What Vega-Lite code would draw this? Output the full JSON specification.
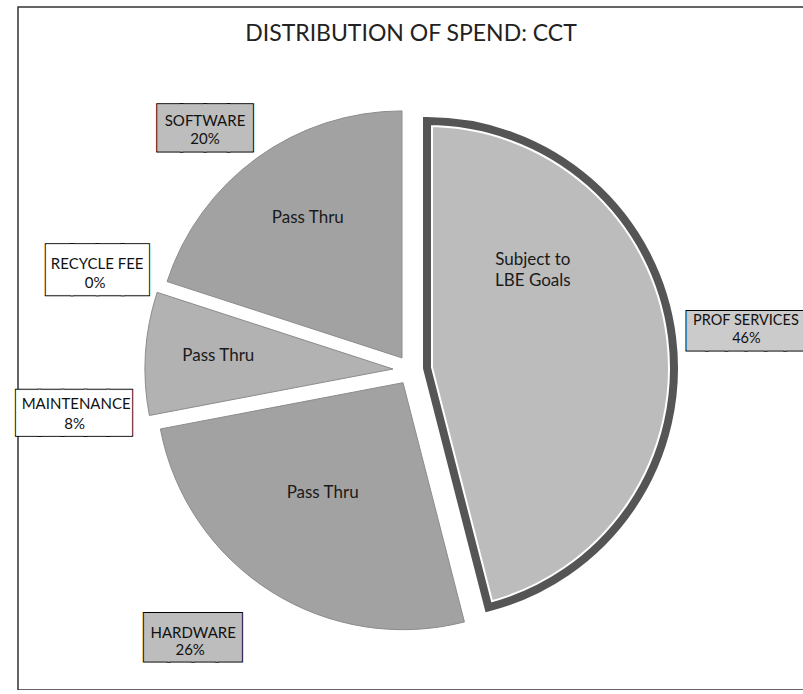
{
  "$schema": "https://vega.github.io/schema/vega-lite/v6.json",
  "width": 786,
  "height": 683,
  "autosize": "none",
  "padding": {"left": 18, "top": 7, "right": 0, "bottom": 0},
  "background": "white",
  "view": {"stroke": "#333", "strokeWidth": 1.5, "fill": "white"},
  "title": {"text": "DISTRIBUTION OF SPEND: CCT", "font": "Lato", "fontSize": 23, "fontWeight": "normal", "color": "#222", "anchor": "middle", "frame": "group", "baseline": "alphabetic", "offset": 0, "dy": 57},
  "config": {"text": {"font": "Lato"}},
  "data": {"values": [
    {"cat": "PROF SERVICES", "share": 0.46, "ord": 1, "inner": "Subject to\nLBE Goals"},
    {"cat": "HARDWARE", "share": 0.26, "ord": 2, "inner": "Pass Thru"},
    {"cat": "MAINTENANCE", "share": 0.08, "ord": 3, "inner": "Pass Thru"},
    {"cat": "RECYCLE FEE", "share": 0.0, "ord": 4, "inner": ""},
    {"cat": "SOFTWARE", "share": 0.20, "ord": 5, "inner": "Pass Thru"}
  ]},
  "transform": [{"stack": "share", "groupby": [], "sort": [{"field": "ord", "order": "ascending"}], "as": ["t0", "t1"]}],
  "layer": [
    {
      "transform": [{"filter": "datum.cat === 'SOFTWARE'"}],
      "mark": {"type": "arc", "radius": 247, "fill": "#a2a2a2", "stroke": "#8c8c8c", "strokeWidth": 1, "xOffset": -9, "yOffset": 9.4},
      "encoding": {"theta": {"field": "t0", "type": "quantitative", "scale": {"domain": [0, 1]}}, "theta2": {"field": "t1"}}
    },
    {
      "transform": [{"filter": "datum.cat === 'MAINTENANCE'"}],
      "mark": {"type": "arc", "radius": 248, "fill": "#b2b2b2", "stroke": "#8c8c8c", "strokeWidth": 1, "xOffset": -18, "yOffset": 20.5},
      "encoding": {"theta": {"field": "t0", "type": "quantitative", "scale": {"domain": [0, 1]}}, "theta2": {"field": "t1"}}
    },
    {
      "transform": [{"filter": "datum.cat === 'HARDWARE'"}],
      "mark": {"type": "arc", "radius": 247, "fill": "#a2a2a2", "stroke": "#8c8c8c", "strokeWidth": 1, "xOffset": -8, "yOffset": 34.2},
      "encoding": {"theta": {"field": "t0", "type": "quantitative", "scale": {"domain": [0, 1]}}, "theta2": {"field": "t1"}}
    },
    {
      "transform": [{"filter": "datum.cat === 'PROF SERVICES'"}],
      "mark": {"type": "arc", "radius": 247, "fill": "#bcbcbc", "stroke": "white", "strokeWidth": 12, "xOffset": 16, "yOffset": 19.6},
      "encoding": {"theta": {"field": "t0", "type": "quantitative", "scale": {"domain": [0, 1]}}, "theta2": {"field": "t1"}}
    },
    {
      "transform": [{"filter": "datum.cat === 'PROF SERVICES'"}],
      "mark": {"type": "arc", "radius": 247, "filled": false, "stroke": "#555555", "strokeWidth": 8, "xOffset": 16, "yOffset": 19.6},
      "encoding": {"theta": {"field": "t0", "type": "quantitative", "scale": {"domain": [0, 1]}}, "theta2": {"field": "t1"}}
    },
    {
      "encoding": {
        "theta": {"field": "share", "type": "quantitative", "stack": true, "scale": {"domain": [0, 1]}},
        "order": {"field": "ord", "type": "quantitative"},
        "detail": {"field": "cat", "type": "nominal"}
      },
      "layer": [
        {"mark": {"type": "text", "radius": 150, "dx": -15, "dy": -9, "fontSize": 17, "fill": "#1a1a1a", "baseline": "middle", "align": "center"},
         "encoding": {"text": {"field": "inner", "condition": {"test": "datum.cat !== 'SOFTWARE'", "value": ""}}}},
        {"mark": {"type": "text", "radius": 150, "dx": -43, "dy": 17, "fontSize": 17, "fill": "#1a1a1a", "baseline": "middle", "align": "center"},
         "encoding": {"text": {"field": "inner", "condition": {"test": "datum.cat !== 'MAINTENANCE'", "value": ""}}}},
        {"mark": {"type": "text", "radius": 150, "dx": -8, "dy": 18, "fontSize": 17, "fill": "#1a1a1a", "baseline": "middle", "align": "center"},
         "encoding": {"text": {"field": "inner", "condition": {"test": "datum.cat !== 'HARDWARE'", "value": ""}}}},
        {"mark": {"type": "text", "radius": 150, "dx": -27, "dy": -70, "fontSize": 17, "fill": "#1a1a1a", "baseline": "middle", "align": "center", "lineBreak": "\n", "lineHeight": 21},
         "encoding": {"text": {"field": "inner", "condition": {"test": "datum.cat !== 'PROF SERVICES'", "value": ""}}}},

        {"mark": {"type": "text", "radius": 330, "dx": -12, "dy": 47, "angle": 0.01, "font": "DejaVu Sans Mono", "fontSize": 39, "fill": "transparent", "stroke": "#000", "strokeWidth": 3, "baseline": "middle", "align": "center"},
         "encoding": {"text": {"condition": {"test": "datum.cat === 'SOFTWARE'", "value": "████"}, "value": ""}}},
        {"mark": {"type": "text", "radius": 330, "dx": -12, "dy": 47, "angle": 0.01, "font": "DejaVu Sans Mono", "fontSize": 39, "fill": "#bdbdbd", "stroke": "#bdbdbd", "strokeWidth": 1, "baseline": "middle", "align": "center"},
         "encoding": {"text": {"condition": {"test": "datum.cat === 'SOFTWARE'", "value": "████"}, "value": ""}}},
        {"mark": {"type": "text", "radius": 330, "dx": -12, "dy": 39.5, "fontSize": 15, "fill": "#111", "baseline": "middle", "align": "center"},
         "encoding": {"text": {"field": "cat", "condition": {"test": "datum.cat !== 'SOFTWARE'", "value": ""}}}},
        {"mark": {"type": "text", "radius": 330, "dx": -12, "dy": 57, "fontSize": 15, "fill": "#111", "baseline": "middle", "align": "center"},
         "encoding": {"text": {"field": "share", "format": ".0%", "condition": {"test": "datum.cat !== 'SOFTWARE'", "value": ""}}}},

        {"mark": {"type": "text", "radius": 330, "dx": 0, "dy": 24.5, "angle": 0.01, "font": "DejaVu Sans Mono", "fontSize": 42, "fill": "transparent", "stroke": "#000", "strokeWidth": 3, "baseline": "middle", "align": "center"},
         "encoding": {"text": {"condition": {"test": "datum.cat === 'RECYCLE FEE'", "value": "████"}, "value": ""}}},
        {"mark": {"type": "text", "radius": 330, "dx": 0, "dy": 24.5, "angle": 0.01, "font": "DejaVu Sans Mono", "fontSize": 42, "fill": "#ffffff", "stroke": "#ffffff", "strokeWidth": 1, "baseline": "middle", "align": "center"},
         "encoding": {"text": {"condition": {"test": "datum.cat === 'RECYCLE FEE'", "value": "████"}, "value": ""}}},
        {"mark": {"type": "text", "radius": 330, "dx": 0, "dy": 17.5, "fontSize": 15, "fill": "#111", "baseline": "middle", "align": "center"},
         "encoding": {"text": {"field": "cat", "condition": {"test": "datum.cat !== 'RECYCLE FEE'", "value": ""}}}},
        {"mark": {"type": "text", "radius": 330, "dx": -2, "dy": 36, "fontSize": 15, "fill": "#111", "baseline": "middle", "align": "center"},
         "encoding": {"text": {"field": "share", "format": ".0%", "condition": {"test": "datum.cat !== 'RECYCLE FEE'", "value": ""}}}},

        {"mark": {"type": "text", "radius": 330, "dx": -7.5, "dy": 87, "angle": 0.01, "font": "DejaVu Sans Mono", "fontSize": 38, "fill": "transparent", "stroke": "#000", "strokeWidth": 3, "baseline": "middle", "align": "center"},
         "encoding": {"text": {"condition": {"test": "datum.cat === 'MAINTENANCE'", "value": "█████"}, "value": ""}}},
        {"mark": {"type": "text", "radius": 330, "dx": -7.5, "dy": 87, "angle": 0.01, "font": "DejaVu Sans Mono", "fontSize": 38, "fill": "#ffffff", "stroke": "#ffffff", "strokeWidth": 1, "baseline": "middle", "align": "center"},
         "encoding": {"text": {"condition": {"test": "datum.cat === 'MAINTENANCE'", "value": "█████"}, "value": ""}}},
        {"mark": {"type": "text", "radius": 330, "dx": -5.5, "dy": 76.5, "fontSize": 15, "fill": "#111", "baseline": "middle", "align": "center"},
         "encoding": {"text": {"field": "cat", "condition": {"test": "datum.cat !== 'MAINTENANCE'", "value": ""}}}},
        {"mark": {"type": "text", "radius": 330, "dx": -7, "dy": 96.5, "fontSize": 15, "fill": "#111", "baseline": "middle", "align": "center"},
         "encoding": {"text": {"field": "share", "format": ".0%", "condition": {"test": "datum.cat !== 'MAINTENANCE'", "value": ""}}}},

        {"mark": {"type": "text", "radius": 330, "dx": 7.5, "dy": 24.5, "angle": 0.01, "font": "DejaVu Sans Mono", "fontSize": 32.5, "fill": "transparent", "stroke": "#000", "strokeWidth": 3, "baseline": "middle", "align": "center"},
         "encoding": {"text": {"condition": {"test": "datum.cat === 'PROF SERVICES'", "value": "██████"}, "value": ""}}},
        {"mark": {"type": "text", "radius": 330, "dx": 7.5, "dy": 24.5, "angle": 0.01, "font": "DejaVu Sans Mono", "fontSize": 32.5, "fill": "#cbcbcb", "stroke": "#cbcbcb", "strokeWidth": 1, "baseline": "middle", "align": "center"},
         "encoding": {"text": {"condition": {"test": "datum.cat === 'PROF SERVICES'", "value": "██████"}, "value": ""}}},
        {"mark": {"type": "text", "radius": 330, "dx": 7.5, "dy": 14, "fontSize": 14.5, "fill": "#111", "baseline": "middle", "align": "center"},
         "encoding": {"text": {"field": "cat", "condition": {"test": "datum.cat !== 'PROF SERVICES'", "value": ""}}}},
        {"mark": {"type": "text", "radius": 330, "dx": 8, "dy": 31.5, "fontSize": 14.5, "fill": "#111", "baseline": "middle", "align": "center"},
         "encoding": {"text": {"field": "share", "format": ".0%", "condition": {"test": "datum.cat !== 'PROF SERVICES'", "value": ""}}}},

        {"mark": {"type": "text", "radius": 330, "dx": -41.5, "dy": 12, "angle": 0.01, "font": "DejaVu Sans Mono", "fontSize": 40, "fill": "transparent", "stroke": "#000", "strokeWidth": 3, "baseline": "middle", "align": "center"},
         "encoding": {"text": {"condition": {"test": "datum.cat === 'HARDWARE'", "value": "████"}, "value": ""}}},
        {"mark": {"type": "text", "radius": 330, "dx": -41.5, "dy": 12, "angle": 0.01, "font": "DejaVu Sans Mono", "fontSize": 40, "fill": "#bdbdbd", "stroke": "#bdbdbd", "strokeWidth": 1, "baseline": "middle", "align": "center"},
         "encoding": {"text": {"condition": {"test": "datum.cat === 'HARDWARE'", "value": "████"}, "value": ""}}},
        {"mark": {"type": "text", "radius": 330, "dx": -41, "dy": 5.5, "fontSize": 15, "fill": "#111", "baseline": "middle", "align": "center"},
         "encoding": {"text": {"field": "cat", "condition": {"test": "datum.cat !== 'HARDWARE'", "value": ""}}}},
        {"mark": {"type": "text", "radius": 330, "dx": -44, "dy": 22.5, "fontSize": 15, "fill": "#111", "baseline": "middle", "align": "center"},
         "encoding": {"text": {"field": "share", "format": ".0%", "condition": {"test": "datum.cat !== 'HARDWARE'", "value": ""}}}}
      ]
    }
  ]
}
